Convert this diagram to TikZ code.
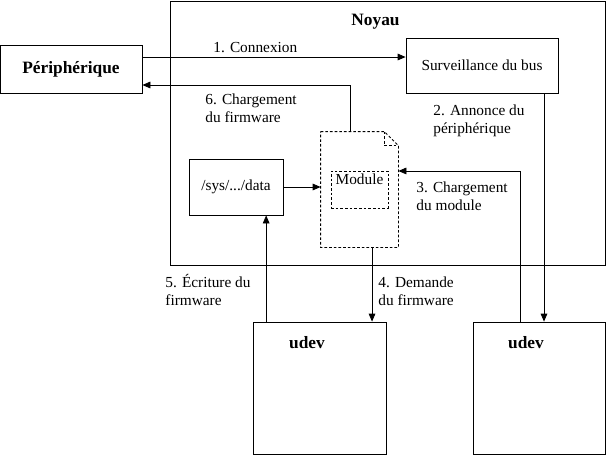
\documentclass[tikz,border=0pt]{standalone}
\usepackage{fontspec}
\setmainfont{Liberation Serif}
\usetikzlibrary{arrows.meta}

\begin{document}
\begin{tikzpicture}[x=0.75pt, y=-0.75pt, line width=0.6pt,
  every node/.style={inner sep=0pt, font=\fontsize{11.5}{13}\selectfont},
  box/.style={draw, rectangle},
  title/.style={anchor=base, font=\fontsize{13}{15}\selectfont\bfseries},
  lbl/.style={anchor=base west, align=left},
  arr/.style={-{Triangle[length=6pt, width=5pt]}},
  dsh/.style={dash pattern=on 2pt off 1.5pt}]
  \useasboundingbox (0,0) rectangle (606,455);
  \node[box, minimum width=326.25pt, minimum height=198pt] (noyau) at (387.5,133) {};
  \node[title] (noyaulbl) at (375.5,25) {Noyau};
  \node[box, minimum width=106.5pt, minimum height=36pt, font=\fontsize{13}{15}\selectfont\bfseries] (periph) at (71,69) {Périphérique};
  \node[box, minimum width=114pt, minimum height=41.25pt] (surv) at (482,65.5) {Surveillance du bus};
  \node[box, minimum width=70.5pt, minimum height=42pt] (data) at (236,187) {/sys/.../data};
  \node[minimum width=57.75pt, minimum height=86.25pt] (mod) at (359.5,189.5) {};
  \draw[dsh] (mod.north west) -- ([xshift=-10.5pt]mod.north east) -- ([yshift=-10.5pt]mod.north east) -- (mod.south east) -- (mod.south west) -- cycle;
  \draw[dsh] ([xshift=-10.5pt]mod.north east) |- ([yshift=-10.5pt]mod.north east);
  \node[box, dsh, minimum width=42.75pt, minimum height=27.75pt] (modin) at (359.5,189.5) {};
  \node[anchor=base] (modlbl) at (359.5,184) {Module};
  \node[box, minimum width=99.75pt, minimum height=99pt] (udevA) at (319.5,388) {};
  \node[title] (udevAlbl) at (307,348) {udev};
  \node[box, minimum width=99pt, minimum height=99pt] (udevB) at (539,388) {};
  \node[title] (udevBlbl) at (526,348) {udev};

  \draw[arr] ([yshift=9pt]periph.east) -- ([yshift=9pt]periph.east -| surv.west);
  \draw[arr] ([xshift=46.5pt]surv.south) -- ([xshift=46.5pt]surv.south |- udevB.north);
  \draw[arr] ([xshift=-14.25pt]udevB.north) |- ([yshift=13.9pt]mod.east);
  \draw[arr] ([xshift=9.4pt]mod.south) -- ([xshift=9.4pt]mod.south |- udevA.north);
  \draw[arr] ([xshift=-40pt]udevA.north) -- ([xshift=-40pt]udevA.north |- data.south);
  \draw[arr] ([xshift=-7pt]mod.north) |- ([yshift=-12pt]periph.east);
  \draw[arr] (data.east) -- (data.east -| mod.west);

  \node[lbl] (l1) at (213,52) {1. Connexion};
  \node[lbl] (l2) at (433,133) {2. Annonce du\\périphérique};
  \node[lbl] (l3) at (416,210) {3. Chargement\\du module};
  \node[lbl] (l4) at (378,305) {4. Demande\\du firmware};
  \node[lbl] (l5) at (165,305) {5. Écriture du\\firmware};
  \node[lbl] (l6) at (205,122) {6. Chargement\\du firmware};
\end{tikzpicture}
\end{document}
